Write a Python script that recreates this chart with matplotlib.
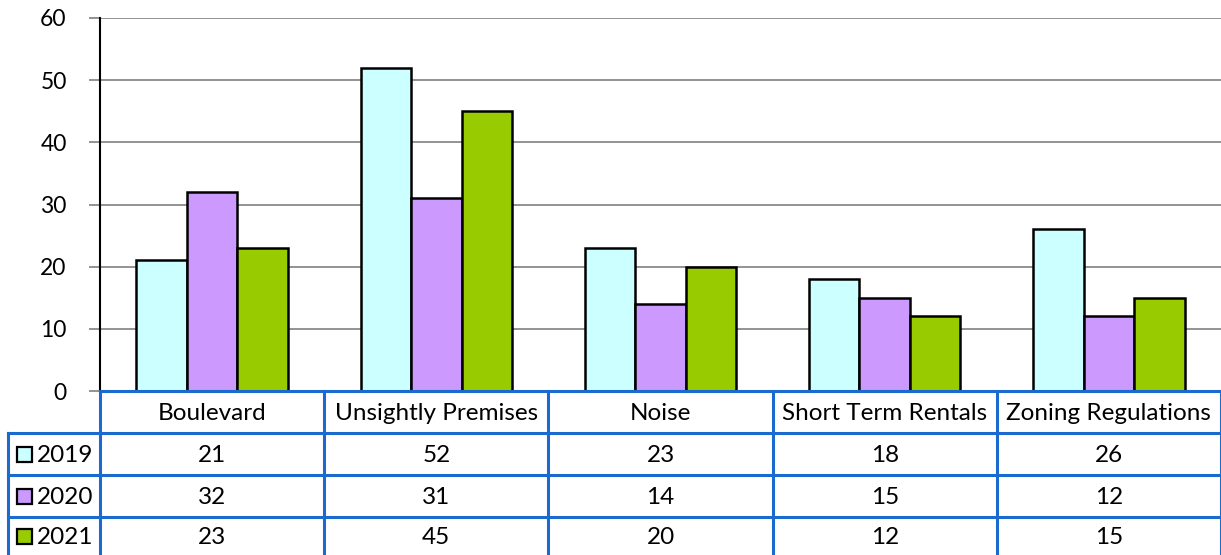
import matplotlib
matplotlib.use('Agg')
import matplotlib.pyplot as plt
from matplotlib.patches import Rectangle
import numpy as np

plt.rcParams['font.family'] = ['Lato', 'DejaVu Sans']

categories = ['Boulevard', 'Unsightly Premises', 'Noise', 'Short Term Rentals', 'Zoning Regulations']
years = ['2019', '2020', '2021']
v2019 = [21, 52, 23, 18, 26]
v2020 = [32, 31, 14, 15, 12]
v2021 = [23, 45, 20, 12, 15]
series = [v2019, v2020, v2021]
colors = ['#CCFFFF', '#CC99FF', '#99CC00']
yticks = [0, 10, 20, 30, 40, 50, 60]

W, H = 1221, 555
fig = plt.figure(figsize=(W / 100, H / 100), dpi=100)

# plot area in pixels
x0, x1 = 100, 1221
ytop, ybot = 18, 391
ax = fig.add_axes([x0 / W, 1 - ybot / H, (x1 - x0) / W, (ybot - ytop) / H])

n = len(categories)
x = np.arange(n)
bw = 0.225
for i, vals in enumerate(series):
    ax.bar(x + (i - 1) * bw, vals, width=bw, color=colors[i], edgecolor='black',
           linewidth=1.8, zorder=3)

ax.set_xlim(-0.5, n - 0.5)
ax.set_ylim(0, 60)
ax.set_yticks(yticks)
ax.set_yticklabels([str(t) for t in yticks], fontsize=16.5)
ax.set_xticks([])
ax.yaxis.grid(True, color='#808080', linewidth=1.2, zorder=0)
for s in ['top', 'right', 'bottom']:
    ax.spines[s].set_visible(False)
ax.spines['left'].set_linewidth(1.5)
ax.spines['left'].set_color('black')
ax.tick_params(axis='y', length=8, width=1.2, color='#808080', pad=16)

# data table below
tx0 = 8
row_edges = [391, 433, 475, 517, 555]
tab = fig.add_axes([0, 0, 1, 1])
tab.set_xlim(0, W)
tab.set_ylim(H, 0)
tab.axis('off')
blue = '#1A6AD0'
lw = 2.2
col_edges = np.linspace(x0, x1, n + 1)

# horizontal lines
tab.plot([x0, x1], [row_edges[0], row_edges[0]], color=blue, lw=lw)
for r in row_edges[1:-1]:
    tab.plot([tx0, x1], [r, r], color=blue, lw=lw)
# vertical lines
tab.plot([tx0, tx0], [row_edges[1], H], color=blue, lw=lw)
for c in col_edges:
    tab.plot([c, c], [row_edges[0], H], color=blue, lw=lw)

fs = 17.5
for j, cat in enumerate(categories):
    cx = (col_edges[j] + col_edges[j + 1]) / 2
    tab.text(cx, (row_edges[0] + row_edges[1]) / 2 + 1, cat, ha='center', va='center', fontsize=fs)
    for i, vals in enumerate(series):
        cy = (row_edges[i + 1] + row_edges[i + 2]) / 2 + 1
        tab.text(cx, cy, str(vals[j]), ha='center', va='center', fontsize=fs)

for i, yr in enumerate(years):
    cy = (row_edges[i + 1] + row_edges[i + 2]) / 2
    tab.add_patch(Rectangle((17, cy - 7), 15, 15, facecolor=colors[i], edgecolor='black', lw=1.6))
    tab.text(37, cy + 1, yr, ha='left', va='center', fontsize=fs)

fig.savefig('out.png', dpi=100)
